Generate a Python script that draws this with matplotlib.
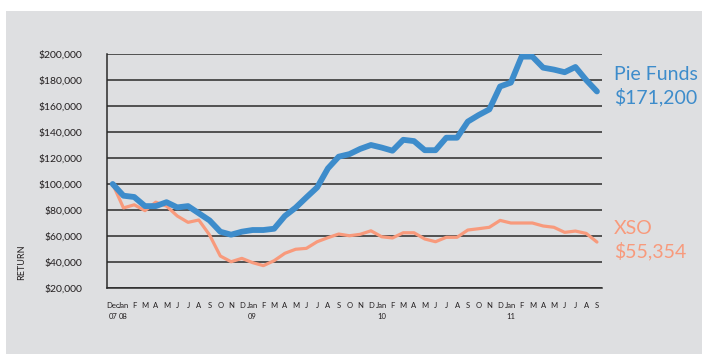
import numpy as np
import matplotlib
matplotlib.use("Agg")
import matplotlib.pyplot as plt
from matplotlib.patches import Rectangle

plt.rcParams['font.family'] = ['Lato', 'DejaVu Sans']

## Data (monthly, Dec 2007 .. Sep 2011)

month_labels = ["Dec\n07", "Jan\n08", "F", "M", "A", "M", "J", "J", "A", "S", "O", "N",
                "D", "Jan\n09", "F", "M", "A", "M", "J", "J", "A", "S", "O", "N",
                "D", "Jan\n10", "F", "M", "A", "M", "J", "J", "A", "S", "O", "N",
                "D", "Jan\n11", "F", "M", "A", "M", "J", "J", "A", "S"]

pie_funds = [100000, 91000, 90000, 83000, 83000, 86000, 82000, 83000, 77500, 72000,
             63300, 61000, 63300, 64600, 64600, 65600, 75400, 81800, 89700, 97400,
             112000, 121000, 123000, 127000, 130000, 128000, 125600, 134000, 133000, 126000,
             126000, 135600, 135600, 148000, 153000, 157400, 175000, 178000, 198000, 198000,
             189500, 188000, 186000, 190000, 180000, 171200]

xso = [100000, 81600, 84000, 79500, 86000, 83000, 75400, 70500, 72300, 60800,
       44600, 40200, 42800, 39500, 37200, 41000, 46700, 49800, 50500, 55600,
       58700, 61500, 60200, 61300, 64000, 59400, 58500, 62500, 62500, 57700,
       55600, 59000, 59000, 64600, 65600, 66700, 72000, 70000, 70000, 70000,
       67700, 66700, 62800, 63800, 62000, 55354]

y_ticks = np.arange(20000, 200001, 20000)

blue = "#3d8ccb"
orange = "#f89a7c"
dark = "#231f20"

## Figure

fig = plt.figure(figsize=(7.02, 3.54), dpi=100, facecolor="white")
fig.patches.append(Rectangle((6 / 702, 0), 1, 1 - 11 / 354, transform=fig.transFigure,
                             facecolor="#dedfe1", edgecolor="none", zorder=-5))

ax = fig.add_axes([107 / 702, 1 - 288 / 354, (602 - 107) / 702, (288 - 54) / 354])
ax.set_facecolor("none")
ax.set_zorder(2)

x = np.arange(len(month_labels))
ax.plot(x, xso, color=orange, lw=2.3, solid_joinstyle="round", solid_capstyle="round", zorder=3)
ax.plot(x, pie_funds, color=blue, lw=4.2, solid_joinstyle="round", solid_capstyle="round", zorder=4)

ax.set_xlim(-0.53, 45.47)
ax.set_ylim(20000, 200000)
ax.set_yticks(y_ticks)
ax.set_yticklabels(["${:,.0f}".format(v) for v in y_ticks], fontsize=7.5, color=dark)
ax.set_xticks(x)
ax.set_xticklabels(month_labels, fontsize=5.5, color=dark, linespacing=1.75)
ax.tick_params(axis="y", length=0, pad=18)
ax.tick_params(axis="x", length=0, pad=10)

ax.yaxis.grid(True, color="#2a2a2a", lw=1.1)
ax.set_axisbelow(True)
for side in ["top", "right"]:
    ax.spines[side].set_visible(False)
ax.spines["left"].set_color("#2a2a2a")
ax.spines["bottom"].set_color("#2a2a2a")
ax.spines["left"].set_linewidth(1.1)
ax.spines["bottom"].set_linewidth(1.1)

fig.text(22 / 702, 1 - 262 / 354, "RETURN", rotation=90, fontsize=6.5, color=dark,
         ha="center", va="center")

## End labels
fig.text(614 / 702, 1 - 74 / 354, "Pie Funds", fontsize=14, color=blue,
         ha="left", va="center")
fig.text(614 / 702, 1 - 97 / 354, "${:,.0f}".format(pie_funds[-1]), fontsize=14, color=blue,
         ha="left", va="center")
fig.text(614 / 702, 1 - 228 / 354, "XSO", fontsize=14, color=orange,
         ha="left", va="center")
fig.text(614 / 702, 1 - 251 / 354, "${:,.0f}".format(xso[-1]), fontsize=14, color=orange,
         ha="left", va="center")

fig.savefig("out.png", dpi=100, facecolor="white")
